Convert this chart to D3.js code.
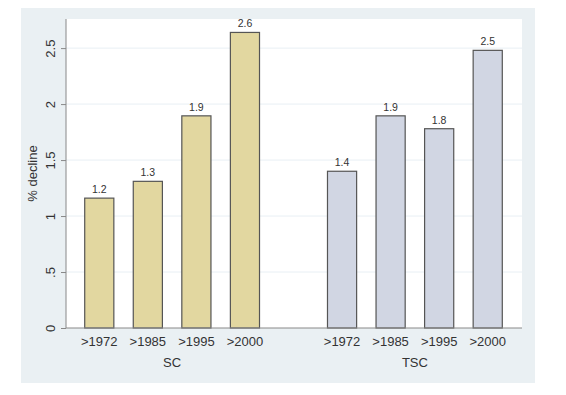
<!DOCTYPE html>
<html>
<head>
<meta charset="utf-8">
<script src="https://cdn.jsdelivr.net/npm/d3@7"></script>
<style>
	body { margin: 0; background: #fff; }
	text { font-family: 'Liberation Sans', Arial, sans-serif; fill: #333; }
</style>
</head>
<body>
<svg id="chart" width="566" height="395"></svg>
<script>
// values
const groups = ['SC', 'TSC']
const periods = ['>1972', '>1985', '>1995', '>2000']
const scValues = [1.16, 1.31, 1.895, 2.64]
const tscValues = [1.40, 1.895, 1.78, 2.48]
const barLabels = [['1.2', '1.3', '1.9', '2.6'], ['1.4', '1.9', '1.8', '2.5']]
const yTicks = [0, 0.5, 1, 1.5, 2, 2.5]
const yTickLabels = ['0', '.5', '1', '1.5', '2', '2.5']

const groupColors = ['#e2d7a0', '#d1d6e3']

const svg = d3.select('#chart')

// outer panel
svg.append('rect')
	.attr('x', 21).attr('y', 8)
	.attr('width', 514).attr('height', 375)
	.attr('fill', '#eaf0f3')

const plot = { left: 66, right: 522, top: 19, bottom: 328 }

svg.append('rect')
	.attr('x', plot.left).attr('y', plot.top)
	.attr('width', plot.right - plot.left).attr('height', plot.bottom - plot.top)
	.attr('fill', '#fff')

const y = d3.scaleLinear()
	.domain([0, 2.76])
	.range([plot.bottom, plot.top])

// two groups, each with four bands
const xGroup = d3.scaleBand()
	.domain(groups)
	.range([75, 512])
	.paddingInner(0.2)

const xBar = d3.scaleBand()
	.domain(periods)
	.range([0, xGroup.bandwidth()])
	.paddingInner(0.4)
	.paddingOuter(0.2)

// gridlines
svg.append('g')
	.selectAll('line')
	.data(yTicks.slice(1))
	.join('line')
	.attr('x1', plot.left).attr('x2', plot.right)
	.attr('y1', d => y(d)).attr('y2', d => y(d))
	.attr('stroke', '#e8eff4')
	.attr('stroke-width', 1)

const data = groups.map((g, gi) => ({
	group: g,
	values: (gi === 0 ? scValues : tscValues).map((v, i) => ({
		period: periods[i], value: v, label: barLabels[gi][i], gi
	}))
}))

const gGroups = svg.append('g')
	.selectAll('g')
	.data(data)
	.join('g')
	.attr('transform', d => `translate(${xGroup(d.group)},0)`)

gGroups.selectAll('rect')
	.data(d => d.values)
	.join('rect')
	.attr('x', d => xBar(d.period))
	.attr('width', xBar.bandwidth())
	.attr('y', d => y(d.value))
	.attr('height', d => y(0) - y(d.value))
	.attr('fill', d => groupColors[d.gi])
	.attr('stroke', '#555')
	.attr('stroke-width', 1.2)

gGroups.selectAll('text.val')
	.data(d => d.values)
	.join('text')
	.attr('class', 'val')
	.attr('x', d => xBar(d.period) + xBar.bandwidth() / 2)
	.attr('y', d => y(d.value) - 5)
	.attr('text-anchor', 'middle')
	.attr('font-size', 10.5)
	.text(d => d.label)

gGroups.selectAll('text.period')
	.data(d => d.values)
	.join('text')
	.attr('class', 'period')
	.attr('x', d => xBar(d.period) + xBar.bandwidth() / 2)
	.attr('y', plot.bottom + 18)
	.attr('text-anchor', 'middle')
	.attr('font-size', 13)
	.text(d => d.period)

gGroups.append('text')
	.attr('x', xGroup.bandwidth() / 2)
	.attr('y', plot.bottom + 39)
	.attr('text-anchor', 'middle')
	.attr('font-size', 13)
	.text(d => d.group)

// x baseline
svg.append('line')
	.attr('x1', plot.left).attr('x2', plot.right)
	.attr('y1', plot.bottom).attr('y2', plot.bottom)
	.attr('stroke', '#888')

// y axis
const yAxis = d3.axisLeft(y)
	.tickValues(yTicks)
	.tickFormat((d, i) => yTickLabels[i])
	.tickSize(5)
	.tickPadding(4)

const ya = svg.append('g')
	.attr('transform', `translate(${plot.left},0)`)
	.call(yAxis)

ya.select('.domain')
	.attr('d', `M0,${plot.bottom}V${plot.top}`)
	.attr('stroke', '#888')
ya.selectAll('.tick line').attr('stroke', '#888')
ya.selectAll('.tick text')
	.attr('font-size', 13)
	.attr('font-family', "'Liberation Sans', Arial, sans-serif")
	.attr('fill', '#333')
	.attr('transform', 'rotate(-90)')
	.attr('x', 0)
	.attr('y', -11)
	.attr('dy', '0')
	.attr('text-anchor', 'middle')
	.attr('dominant-baseline', 'auto')

svg.append('text')
	.attr('transform', `translate(37,${(plot.top + plot.bottom) / 2}) rotate(-90)`)
	.attr('text-anchor', 'middle')
	.attr('font-size', 13)
	.text('% decline')
</script>
</body>
</html>
